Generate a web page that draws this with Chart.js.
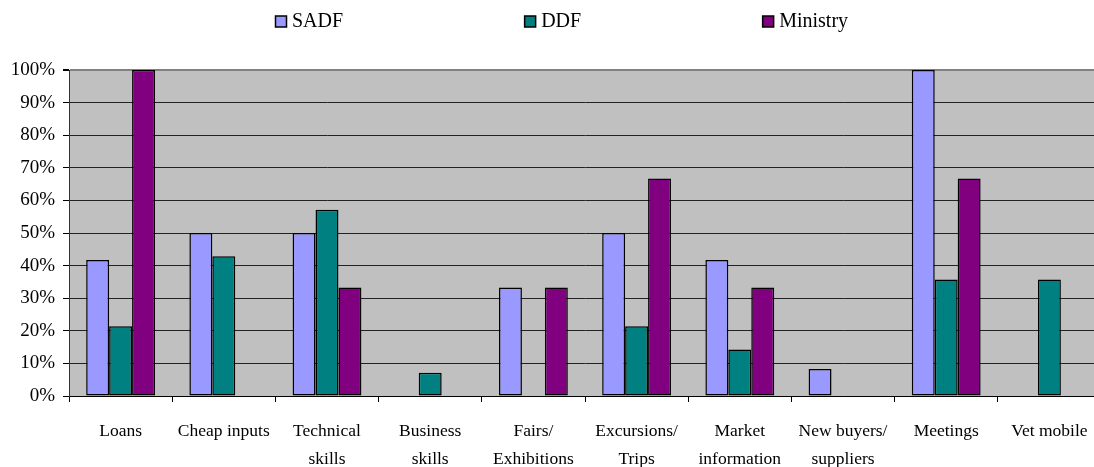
<!DOCTYPE html>
<html>
<head>
<meta charset="utf-8">
<script src="https://cdn.jsdelivr.net/npm/chart.js@4"></script>
<style>
  html, body { margin: 0; padding: 0; background: #fff; overflow: hidden; }
  #wrap { width: 1104px; height: 467px; }
</style>
</head>
<body>
<div id="wrap"><canvas id="chart" width="1104" height="467"></canvas></div>
<script>
const CATEGORIES = [
    'Loans', 'Cheap inputs', ['Technical', 'skills'], ['Business', 'skills'], ['Fairs/', 'Exhibitions'],
    ['Excursions/', 'Trips'], ['Market', 'information'], ['New buyers/', 'suppliers'], 'Meetings', 'Vet mobile'
];
const SADF = [41.7, 50, 50, 0, 33.3, 50, 41.7, 8.3, 100, 0];
const DDF = [21.4, 42.9, 57.1, 7.1, 0, 21.4, 14.3, 0, 35.7, 35.7];
const MINISTRY = [100, 0, 33.3, 0, 33.3, 66.7, 33.3, 0, 66.7, 0];
const SERIES_NAMES = ['SADF', 'DDF', 'Ministry'];
const SERIES_COLORS = ['#9999FF', '#008080', '#800080'];
const Y_TICKS = [0, 10, 20, 30, 40, 50, 60, 70, 80, 90, 100];

const FONT_FAMILY = '"Liberation Serif", "DejaVu Serif", serif';

function makeDataset(label, data, i) {
    return {
        label: label,
        data: data,
        backgroundColor: SERIES_COLORS[i],
        borderColor: '#000',
        borderWidth: 1.5,
        borderSkipped: false,
        categoryPercentage: 0.667,
        barPercentage: 1
    };
}

function plotBackgroundPlugin() {
    return {
        id: 'plotBackground',
        beforeDraw(chart) {
            const { ctx, chartArea: a } = chart;
            ctx.save();
            ctx.fillStyle = '#C0C0C0';
            ctx.fillRect(a.left, a.top, a.right - a.left, a.bottom - a.top);
            ctx.restore();
        }
    };
}

function topLegendPlugin() {
    return {
        id: 'topLegend',
        afterDraw(chart) {
            const { ctx } = chart;
            const box = 11;
            const gap = 6;
            const spacing = 181;
            ctx.save();
            ctx.font = '20px ' + FONT_FAMILY;
            ctx.textBaseline = 'middle';
            const items = chart.data.datasets.map(ds => ({
                label: ds.label,
                color: ds.backgroundColor,
                w: box + gap + ctx.measureText(ds.label).width
            }));
            let x = 275;
            const y = 21;
            items.forEach(it => {
                ctx.fillStyle = it.color;
                ctx.fillRect(x + 0.5, y - box / 2 + 0.5, box, box);
                ctx.strokeStyle = '#000';
                ctx.lineWidth = 1.5;
                ctx.strokeRect(x + 0.5, y - box / 2 + 0.5, box, box);
                ctx.fillStyle = '#000';
                ctx.fillText(it.label, x + box + gap, y + 1);
                x += it.w + spacing;
            });
            ctx.restore();
        }
    };
}

new Chart(document.getElementById('chart'), {
    type: 'bar',
    data: {
        labels: CATEGORIES,
        datasets: [
            makeDataset(SERIES_NAMES[0], SADF, 0),
            makeDataset(SERIES_NAMES[1], DDF, 1),
            makeDataset(SERIES_NAMES[2], MINISTRY, 2)
        ]
    },
    options: {
        responsive: false,
        animation: false,
        layout: { padding: { top: 70, right: 3, left: 0, bottom: 0 } },
        plugins: {
            legend: { display: false },
            tooltip: { enabled: false }
        },
        scales: {
            x: {
                offset: true,
                grid: {
                    offset: true,
                    drawOnChartArea: false,
                    drawTicks: true,
                    tickLength: 6,
                    tickColor: '#000'
                },
                border: { display: true, color: '#000', width: 1 },
                ticks: {
                    color: '#000',
                    padding: 15,
                    maxRotation: 0,
                    autoSkip: false,
                    font: { family: FONT_FAMILY, size: 17.5, lineHeight: 1.6 }
                },
                afterFit(scale) { scale.height = 71; }
            },
            y: {
                min: 0,
                max: 100,
                afterBuildTicks(scale) { scale.ticks = Y_TICKS.map(v => ({ value: v })); },
                grid: {
                    drawTicks: true,
                    tickLength: 6,
                    tickColor: '#000',
                    color(ctx) { return ctx.tick && ctx.tick.value === 100 ? '#808080' : '#222'; },
                    lineWidth(ctx) { return ctx.tick && ctx.tick.value === 100 ? 2 : 1; }
                },
                border: { display: true, color: '#333', width: 1 },
                ticks: {
                    color: '#000',
                    padding: 8,
                    font: { family: FONT_FAMILY, size: 19 },
                    callback: v => v + '%'
                },
                afterFit(scale) { scale.width = 69; }
            }
        }
    },
    plugins: [plotBackgroundPlugin(), topLegendPlugin()]
});
</script>
</body>
</html>
